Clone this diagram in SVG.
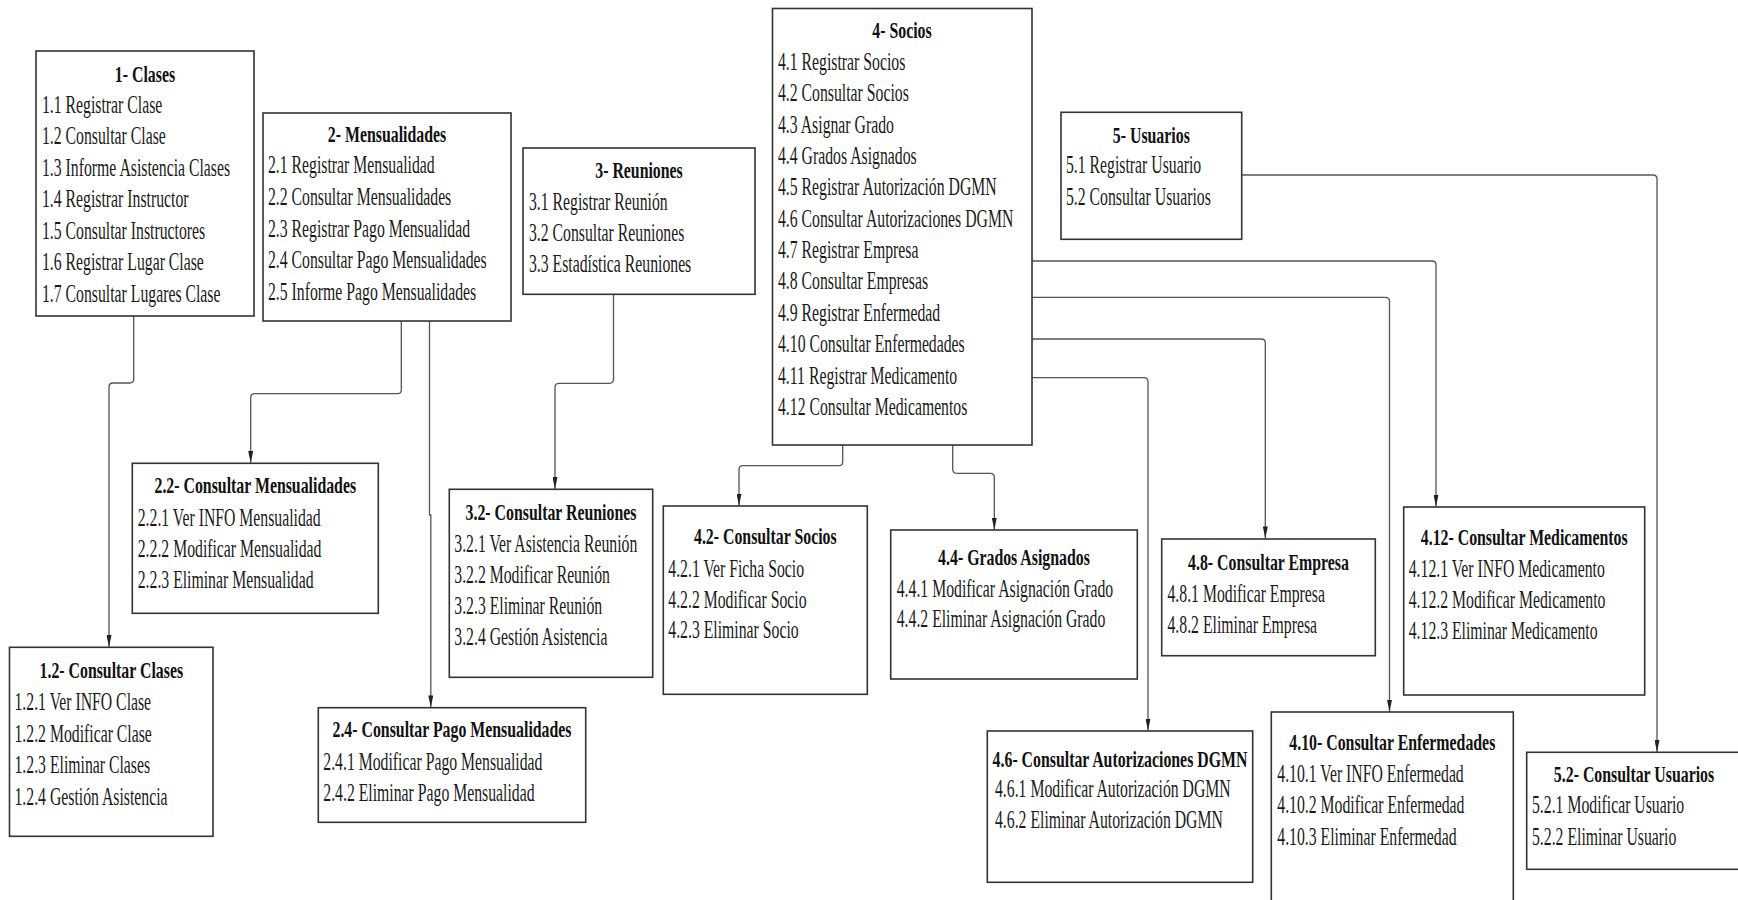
<svg xmlns="http://www.w3.org/2000/svg" width="1738" height="900" viewBox="0 0 1738 900">
<style>
.box{fill:#fff;stroke:#333;stroke-width:1.6}
.t{font-family:"Liberation Serif",serif;font-weight:bold;font-size:24px;fill:#111;text-anchor:middle}
.i{font-family:"Liberation Serif",serif;font-size:26px;fill:#1a1a1a}
.c{fill:none;stroke:#555;stroke-width:1.3}
</style>
<defs>
<marker id="ah" viewBox="0 0 12 5" refX="12" refY="2.5" markerWidth="12" markerHeight="5" orient="auto" markerUnits="userSpaceOnUse">
<path d="M0,0 L12,2.5 L0,5 z" fill="#222"/>
</marker>
</defs>
<rect width="1738" height="900" fill="#fff"/>

<g id="connectors">
<path class="c" d="M133.7,316 V379 Q133.7,383 129.7,383 H113 Q109,383 109,387 V647" marker-end="url(#ah)"/>
<path class="c" d="M401.3,321 V389.7 Q401.3,393.7 397.3,393.7 H254.7 Q250.7,393.7 250.7,397.7 V463" marker-end="url(#ah)"/>
<path class="c" d="M429.5,321 V515 H430.8 V707.4" marker-end="url(#ah)"/>
<path class="c" d="M613.5,294.3 V379.3 Q613.5,383.3 609.5,383.3 H559 Q555,383.3 555,387.3 V489" marker-end="url(#ah)"/>
<path class="c" d="M842.7,445 V461.7 Q842.7,465.7 838.7,465.7 H743 Q739,465.7 739,469.7 V505.7" marker-end="url(#ah)"/>
<path class="c" d="M952.7,445 V469.3 Q952.7,473.3 956.7,473.3 H990.3 Q994.3,473.3 994.3,477.3 V529.7" marker-end="url(#ah)"/>
<path class="c" d="M1032,377.7 H1144 Q1148,377.7 1148,381.7 V730.7" marker-end="url(#ah)"/>
<path class="c" d="M1032,339 H1261.3 Q1265.3,339 1265.3,343 V538.4" marker-end="url(#ah)"/>
<path class="c" d="M1032,297.3 H1385.5 Q1389.5,297.3 1389.5,301.3 V711.7" marker-end="url(#ah)"/>
<path class="c" d="M1032,261 H1432 Q1436,261 1436,265 V506.7" marker-end="url(#ah)"/>
<path class="c" d="M1241.7,175 H1653 Q1657,175 1657,179 V752" marker-end="url(#ah)"/>
</g>

<g id="n1">
<rect class="box" x="36" y="51" width="218" height="265"/>
<text class="t" transform="translate(145,82) scale(0.66,1)">1- Clases</text>
<g transform="translate(42,0) scale(0.606,1)">
<text class="i" y="113">1.1 Registrar Clase</text>
<text class="i" y="144.5">1.2 Consultar Clase</text>
<text class="i" y="176">1.3 Informe Asistencia Clases</text>
<text class="i" y="207.4">1.4 Registrar Instructor</text>
<text class="i" y="238.8">1.5 Consultar Instructores</text>
<text class="i" y="270.3">1.6 Registrar Lugar Clase</text>
<text class="i" y="301.7">1.7 Consultar Lugares Clase</text>
</g>
</g>

<g id="n2">
<rect class="box" x="263" y="113" width="248" height="208"/>
<text class="t" transform="translate(387,142) scale(0.66,1)">2- Mensualidades</text>
<g transform="translate(268,0) scale(0.606,1)">
<text class="i" y="173.3">2.1 Registrar Mensualidad</text>
<text class="i" y="205">2.2 Consultar Mensualidades</text>
<text class="i" y="236.7">2.3 Registrar Pago Mensualidad</text>
<text class="i" y="268.3">2.4 Consultar Pago Mensualidades</text>
<text class="i" y="300">2.5 Informe Pago Mensualidades</text>
</g>
</g>

<g id="n3">
<rect class="box" x="523" y="148" width="232" height="146.3"/>
<text class="t" transform="translate(639,178.3) scale(0.66,1)">3- Reuniones</text>
<g transform="translate(529,0) scale(0.606,1)">
<text class="i" y="210">3.1 Registrar Reunión</text>
<text class="i" y="240.8">3.2 Consultar Reuniones</text>
<text class="i" y="271.6">3.3 Estadística Reuniones</text>
</g>
</g>

<g id="n4">
<rect class="box" x="772.5" y="8.5" width="259.5" height="436.5"/>
<text class="t" transform="translate(902,38.3) scale(0.66,1)">4- Socios</text>
<g transform="translate(778,0) scale(0.606,1)">
<text class="i" y="70">4.1 Registrar Socios</text>
<text class="i" y="101.4">4.2 Consultar Socios</text>
<text class="i" y="132.7">4.3 Asignar Grado</text>
<text class="i" y="164.1">4.4 Grados Asignados</text>
<text class="i" y="195.5">4.5 Registrar Autorización DGMN</text>
<text class="i" y="226.8">4.6 Consultar Autorizaciones DGMN</text>
<text class="i" y="258.2">4.7 Registrar Empresa</text>
<text class="i" y="289.5">4.8 Consultar Empresas</text>
<text class="i" y="320.9">4.9 Registrar Enfermedad</text>
<text class="i" y="352.3">4.10 Consultar Enfermedades</text>
<text class="i" y="383.6">4.11 Registrar Medicamento</text>
<text class="i" y="415">4.12 Consultar Medicamentos</text>
</g>
</g>

<g id="n5">
<rect class="box" x="1061" y="112.3" width="180.7" height="127"/>
<text class="t" transform="translate(1151.3,142.7) scale(0.66,1)">5- Usuarios</text>
<g transform="translate(1066,0) scale(0.606,1)">
<text class="i" y="173.3">5.1 Registrar Usuario</text>
<text class="i" y="205">5.2 Consultar Usuarios</text>
</g>
</g>

<g id="n2_2">
<rect class="box" x="132.3" y="463.3" width="246" height="150"/>
<text class="t" transform="translate(255.3,493.3) scale(0.66,1)">2.2- Consultar Mensualidades</text>
<g transform="translate(137.7,0) scale(0.606,1)">
<text class="i" y="525.7">2.2.1 Ver INFO Mensualidad</text>
<text class="i" y="556.7">2.2.2 Modificar Mensualidad</text>
<text class="i" y="587.7">2.2.3 Eliminar Mensualidad</text>
</g>
</g>

<g id="n1_2">
<rect class="box" x="9.5" y="647.3" width="203.5" height="189"/>
<text class="t" transform="translate(111.3,678.3) scale(0.66,1)">1.2- Consultar Clases</text>
<g transform="translate(14.5,0) scale(0.606,1)">
<text class="i" y="710">1.2.1 Ver INFO Clase</text>
<text class="i" y="741.7">1.2.2 Modificar Clase</text>
<text class="i" y="773.3">1.2.3 Eliminar Clases</text>
<text class="i" y="805">1.2.4 Gestión Asistencia</text>
</g>
</g>

<g id="n3_2">
<rect class="box" x="449.3" y="489.3" width="203.4" height="188"/>
<text class="t" transform="translate(551,520) scale(0.66,1)">3.2- Consultar Reuniones</text>
<g transform="translate(454.3,0) scale(0.606,1)">
<text class="i" y="551.7">3.2.1 Ver Asistencia Reunión</text>
<text class="i" y="583">3.2.2 Modificar Reunión</text>
<text class="i" y="614.3">3.2.3 Eliminar Reunión</text>
<text class="i" y="645">3.2.4 Gestión Asistencia</text>
</g>
</g>

<g id="n2_4">
<rect class="box" x="318.3" y="707.7" width="267.4" height="114.6"/>
<text class="t" transform="translate(452,737.3) scale(0.66,1)">2.4- Consultar Pago Mensualidades</text>
<g transform="translate(323.3,0) scale(0.606,1)">
<text class="i" y="770">2.4.1 Modificar Pago Mensualidad</text>
<text class="i" y="801">2.4.2 Eliminar Pago Mensualidad</text>
</g>
</g>

<g id="n4_2">
<rect class="box" x="663.3" y="506" width="204" height="188.3"/>
<text class="t" transform="translate(765.3,544.3) scale(0.66,1)">4.2- Consultar Socios</text>
<g transform="translate(668.3,0) scale(0.606,1)">
<text class="i" y="576.7">4.2.1 Ver Ficha Socio</text>
<text class="i" y="607.7">4.2.2 Modificar Socio</text>
<text class="i" y="638.3">4.2.3 Eliminar Socio</text>
</g>
</g>

<g id="n4_4">
<rect class="box" x="890.7" y="530" width="246.6" height="149"/>
<text class="t" transform="translate(1014,565) scale(0.66,1)">4.4- Grados Asignados</text>
<g transform="translate(896.7,0) scale(0.606,1)">
<text class="i" y="596.7">4.4.1 Modificar Asignación Grado</text>
<text class="i" y="627.3">4.4.2 Eliminar Asignación Grado</text>
</g>
</g>

<g id="n4_6">
<rect class="box" x="987.3" y="731" width="265.4" height="151.3"/>
<text class="t" transform="translate(1120,766.7) scale(0.66,1)">4.6- Consultar Autorizaciones DGMN</text>
<g transform="translate(995,0) scale(0.606,1)">
<text class="i" y="797">4.6.1 Modificar Autorización DGMN</text>
<text class="i" y="828.3">4.6.2 Eliminar Autorización DGMN</text>
</g>
</g>

<g id="n4_8">
<rect class="box" x="1161.7" y="539" width="213.6" height="116.7"/>
<text class="t" transform="translate(1268.5,570) scale(0.66,1)">4.8- Consultar Empresa</text>
<g transform="translate(1167.5,0) scale(0.606,1)">
<text class="i" y="601.7">4.8.1 Modificar Empresa</text>
<text class="i" y="632.7">4.8.2 Eliminar Empresa</text>
</g>
</g>

<g id="n4_10">
<rect class="box" x="1271.3" y="712" width="242" height="200"/>
<text class="t" transform="translate(1392.3,750) scale(0.66,1)">4.10- Consultar Enfermedades</text>
<g transform="translate(1277.3,0) scale(0.606,1)">
<text class="i" y="781.7">4.10.1 Ver INFO Enfermedad</text>
<text class="i" y="813.3">4.10.2 Modificar Enfermedad</text>
<text class="i" y="845">4.10.3 Eliminar Enfermedad</text>
</g>
</g>

<g id="n4_12">
<rect class="box" x="1403.7" y="507" width="241" height="188"/>
<text class="t" transform="translate(1524.2,545) scale(0.66,1)">4.12- Consultar Medicamentos</text>
<g transform="translate(1408.7,0) scale(0.606,1)">
<text class="i" y="576.7">4.12.1 Ver INFO Medicamento</text>
<text class="i" y="607.7">4.12.2 Modificar Medicamento</text>
<text class="i" y="639">4.12.3 Eliminar Medicamento</text>
</g>
</g>

<g id="n5_2">
<rect class="box" x="1526.7" y="752.3" width="215" height="117"/>
<text class="t" transform="translate(1634,781.7) scale(0.66,1)">5.2- Consultar Usuarios</text>
<g transform="translate(1532,0) scale(0.606,1)">
<text class="i" y="813.3">5.2.1 Modificar Usuario</text>
<text class="i" y="845">5.2.2 Eliminar Usuario</text>
</g>
</g>
</svg>
